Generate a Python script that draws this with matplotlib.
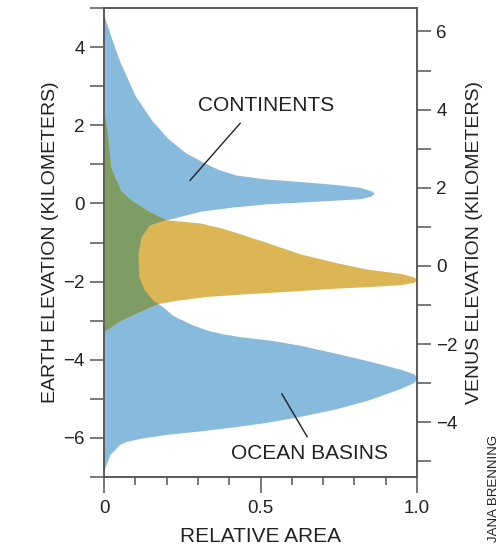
import matplotlib
matplotlib.use('Agg')
import matplotlib.pyplot as plt
from matplotlib.ticker import MultipleLocator

plt.rcParams['font.family'] = ['Liberation Sans', 'DejaVu Sans']

# Earth hypsometry (elevation km, relative area)
earth_elev = [-6.85, -6.76, -6.42, -6.16, -6.09, -6.01, -5.91, -5.82, -5.72, -5.6,
              -5.45, -5.27, -5.04, -4.74, -4.58, -4.47, -4.36, -4.24, -4.02, -3.82,
              -3.63, -3.51, -3.41, -3.34, -3.24, -3.08, -2.87, -2.62, -2.49, -2.23,
              -1.89, -1.29, -0.86, -0.56, -0.42, -0.2, -0.09, -0.01, 0.08, 0.12,
              0.18, 0.25, 0.32, 0.41, 0.49, 0.56, 0.63, 0.73, 0.87, 1.04,
              1.3, 1.64, 2.1, 2.75, 3.62, 4.2, 4.74, 4.85]
earth_area = [0.0, 0.003, 0.019, 0.051, 0.072, 0.115, 0.2, 0.307, 0.413, 0.52,
              0.626, 0.733, 0.84, 0.946, 0.99, 1.0, 0.99, 0.946, 0.84, 0.733,
              0.626, 0.541, 0.435, 0.381, 0.328, 0.275, 0.221, 0.184, 0.158, 0.131,
              0.113, 0.11, 0.12, 0.147, 0.2, 0.307, 0.413, 0.52, 0.733, 0.818,
              0.85, 0.863, 0.855, 0.818, 0.733, 0.626, 0.511, 0.42, 0.365, 0.32,
              0.26, 0.207, 0.155, 0.1, 0.051, 0.025, 0.003, 0.0]

# Venus hypsometry (elevation km on the Venus datum, relative area)
venus_elev = [-1.68, -1.4, -1.14, -0.97, -0.89, -0.78, -0.72, -0.63, -0.57, -0.53,
              -0.48, -0.42, -0.35, -0.28, -0.19, -0.08, 0.1, 0.31, 0.6, 0.88,
              0.98, 1.1, 1.18, 1.38, 1.68, 1.93, 2.53, 3.39, 3.95]
venus_area = [0.0, 0.05, 0.12, 0.168, 0.221, 0.328, 0.435, 0.626, 0.733, 0.84,
              0.946, 0.99, 1.0, 0.99, 0.946, 0.84, 0.733, 0.626, 0.52, 0.413,
              0.37, 0.307, 0.2, 0.147, 0.088, 0.053, 0.021, 0.011, 0.0]

blue = '#88badd'
gold = '#dcb655'
green = '#7e9c63'
ink = '#222222'
axis_col = '#555555'

fig = plt.figure(figsize=(5.01, 5.48), dpi=100)
ax = fig.add_axes([104 / 501, 1 - 477 / 548, 313 / 501, 469 / 548])
ax2 = ax.twinx()

ax.set_xlim(0, 1.0)
ax.set_ylim(-7, 5)
ax2.set_ylim(-5.4, 6.6)

earth = ax.fill_betweenx(earth_elev, 0, earth_area, color=blue, lw=0)
ax2.fill_betweenx(venus_elev, 0, venus_area, color=gold, lw=0)
# where the two overlap it is drawn green
overlap = ax2.fill_betweenx(venus_elev, 0, venus_area, color=green, lw=0)
overlap.set_clip_path(earth.get_paths()[0], ax.transData)

# labels and leader lines
ax.text(0.518, 2.5, 'CONTINENTS', fontsize=15, color=ink, ha='center', va='center')
ax.plot([0.435, 0.275], [2.05, 0.59], color=ink, lw=1)
ax.text(0.173, -1.64, 'VENUS', fontsize=15, color=ink, ha='left', va='center')
ax.text(0.655, -6.41, 'OCEAN BASINS', fontsize=15, color=ink, ha='center', va='center')
ax.plot([0.649, 0.568], [-5.97, -4.87], color=ink, lw=1)

# ticks
ax.set_xticks([0, 0.5, 1.0])
ax.set_xticklabels(['0', '0.5', '1.0'])
ax.xaxis.set_minor_locator(MultipleLocator(0.1))
ax.yaxis.set_minor_locator(MultipleLocator(1))
ax2.yaxis.set_minor_locator(MultipleLocator(1))
ax.set_yticks([-6, -4, -2, 0, 2, 4])
ax2.set_yticks([-4, -2, 0, 2, 4, 6])

ax.tick_params(axis='x', which='major', direction='out', length=11.5, width=1.1,
               color=axis_col, labelsize=13.5, labelcolor=ink, pad=5)
ax.tick_params(axis='x', which='minor', direction='out', length=5.8, width=1.1,
               color=axis_col)
ax.tick_params(axis='y', which='both', direction='out', length=10, width=1.1,
               color=axis_col, labelsize=13.5, labelcolor=ink, pad=4)
ax2.tick_params(axis='y', which='both', direction='out', length=10, width=1.1,
                color=axis_col, labelsize=13.5, labelcolor=ink, pad=4)

for a in (ax, ax2):
    for s in a.spines.values():
        s.set_color(axis_col)
        s.set_linewidth(1.1)

ax.set_xlabel('RELATIVE AREA', fontsize=15, color=ink, va='center')
ax.xaxis.set_label_coords(0.5, -0.126)
ax.set_ylabel('EARTH ELEVATION (KILOMETERS)', fontsize=14, color=ink, va='center')
ax.yaxis.set_label_coords(-0.1725, 0.5)
ax2.set_ylabel('VENUS ELEVATION (KILOMETERS)', fontsize=14, color=ink, va='center')
ax2.yaxis.set_label_coords(1.185, 0.5)

# illustrator credit, small and sideways
fig.text(494 / 501, 1 - 435 / 548, 'JANA BRENNING', fontsize=9.5, color=ink,
         rotation=90, ha='center', va='top')

plt.savefig('out.png', dpi=100)
